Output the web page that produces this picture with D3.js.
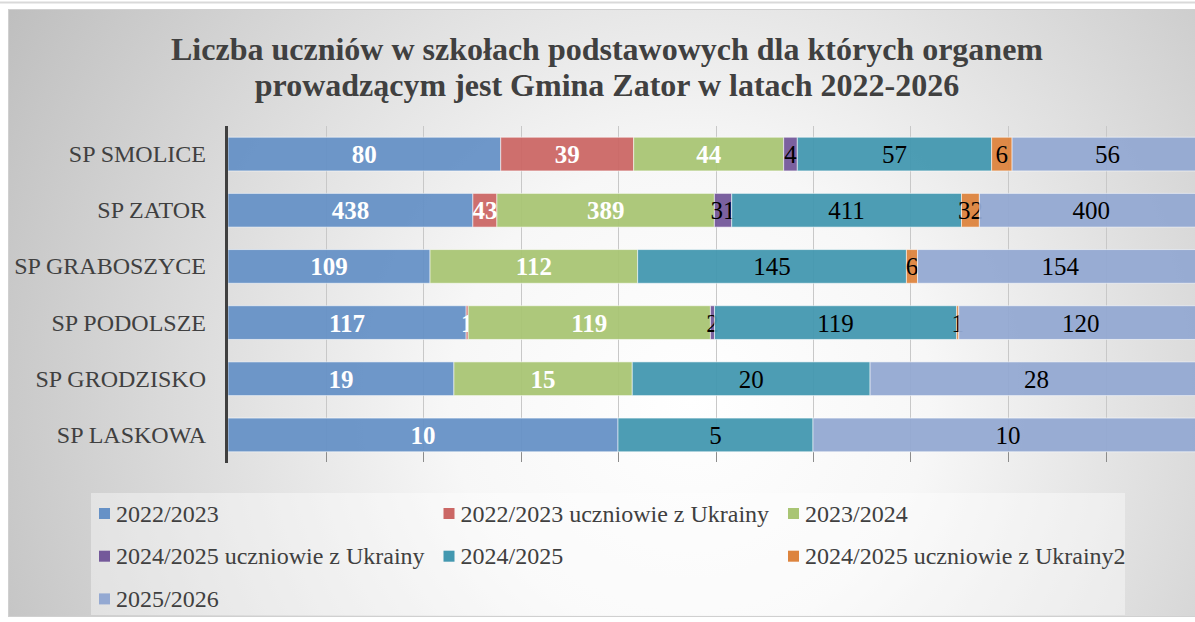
<!DOCTYPE html>
<html>
<head>
<meta charset="utf-8">
<script src="https://cdn.jsdelivr.net/npm/d3@7"></script>
<style>
  html, body { margin: 0; padding: 0; background: #fff; overflow: hidden; }
  svg { display: block; font-family: "Liberation Serif", "Times New Roman", serif; }
</style>
</head>
<body>
<svg id="chart" width="1195" height="622"></svg>
<script>
// Schools (top to bottom)
const categories = ["SP SMOLICE", "SP ZATOR", "SP GRABOSZYCE", "SP PODOLSZE", "SP GRODZISKO", "SP LASKOWA"];

// Series names, in stacking order
const seriesNames = [
  "2022/2023",
  "2022/2023 uczniowie z Ukrainy",
  "2023/2024",
  "2024/2025 uczniowie z Ukrainy",
  "2024/2025",
  "2024/2025 uczniowie z Ukrainy2",
  "2025/2026"
];

// Pupil counts per series, one value per school
const y2223    = [80, 438, 109, 117, 19, 10];
const ukr2223  = [39, 43, 0, 1, 0, 0];
const y2324    = [44, 389, 112, 119, 15, 0];
const ukr2425  = [4, 31, 0, 2, 0, 0];
const y2425    = [57, 411, 145, 119, 20, 5];
const ukr2425b = [6, 32, 6, 1, 0, 0];
const y2526    = [56, 400, 154, 120, 28, 10];

const seriesValues = [y2223, ukr2223, y2324, ukr2425, y2425, ukr2425b, y2526];
const colors = ["#6691C6", "#CB6765", "#A9C574", "#74599A", "#4398B0", "#DD843E", "#94A9D2"];
const titleLines = [
  "Liczba uczniów w szkołach podstawowych dla których organem",
  "prowadzącym jest Gmina Zator w latach 2022-2026"
];

const svg = d3.select("#chart");
const W = 1195, H = 622;

// Background: chart area with a soft radial fill
const defs = svg.append("defs");
const grad = defs.append("radialGradient")
  .attr("id", "bg").attr("gradientUnits", "userSpaceOnUse")
  .attr("cx", 690).attr("cy", 400).attr("r", 800);
grad.append("stop").attr("offset", "0").attr("stop-color", "#ffffff");
grad.append("stop").attr("offset", "0.3").attr("stop-color", "#f7f7f7");
grad.append("stop").attr("offset", "1").attr("stop-color", "#bdbdbd");

svg.append("rect").attr("x", 0).attr("y", 0).attr("width", W).attr("height", H).attr("fill", "#fff");
svg.append("line").attr("x1", 0).attr("x2", W).attr("y1", 2.5).attr("y2", 2.5)
  .attr("stroke", "#d9d9d9").attr("stroke-width", 2);
svg.append("rect").attr("x", 8.5).attr("y", 9.5).attr("width", W).attr("height", 607)
  .attr("fill", "url(#bg)").attr("stroke", "#d0d0d0").attr("stroke-width", 1);

// Title
svg.append("g").selectAll("text").data(titleLines).join("text")
  .attr("x", 607).attr("y", (d, i) => 60 + i * 36)
  .attr("text-anchor", "middle")
  .attr("font-size", 32).attr("font-weight", "bold").attr("fill", "#404040")
  .text(d => d);

// Scales: 100% stacked horizontal bars
const x0 = 228, x1 = 1203;
const x = d3.scaleLinear().domain([0, 1]).range([x0, x1]);
const y = d3.scaleBand().domain(categories).range([126, 463]).paddingInner(0.4).paddingOuter(0.2);

// Gridlines every 10%
const ticks = d3.range(1, 10).map(k => k / 10);
const grid = svg.append("g");
grid.selectAll("line.g").data(ticks).join("line").attr("class", "g")
  .attr("x1", d => Math.round(x(d)) + 0.5).attr("x2", d => Math.round(x(d)) + 0.5)
  .attr("y1", 126).attr("y2", 462)
  .attr("stroke", "#c8c8c8").attr("stroke-width", 1);
grid.selectAll("line.t").data(ticks).join("line").attr("class", "t")
  .attr("x1", d => Math.round(x(d)) + 0.5).attr("x2", d => Math.round(x(d)) + 0.5)
  .attr("y1", 452).attr("y2", 462)
  .attr("stroke", "#8c8c8c").attr("stroke-width", 1);

// Stack the data as shares of each school's total
const rows = categories.map((c, i) => {
  const r = { cat: c };
  seriesNames.forEach((s, j) => r[s] = seriesValues[j][i]);
  r.total = d3.sum(seriesValues, v => v[i]);
  return r;
});
const stacked = d3.stack().keys(seriesNames)
  .value((d, k) => d[k] / d.total)(rows);

const layers = svg.append("g").selectAll("g").data(stacked).join("g")
  .attr("fill", (d, i) => colors[i]);

layers.selectAll("rect").data(d => d.filter(p => p[1] - p[0] > 0)).join("rect")
  .attr("x", p => x(p[0]))
  .attr("width", p => x(p[1]) - x(p[0]))
  .attr("y", p => y(p.data.cat))
  .attr("height", y.bandwidth())
  .attr("fill-opacity", 0.95)
  .attr("stroke", "rgba(255,255,255,0.55)").attr("stroke-width", 1);

// Value labels
layers.each(function(layer, i) {
  const light = i <= 2;
  d3.select(this).selectAll("text").data(layer.filter(p => p.data[layer.key] > 0)).join("text")
    .attr("x", p => (x(p[0]) + x(p[1])) / 2)
    .attr("y", p => y(p.data.cat) + y.bandwidth() / 2 + 9)
    .attr("text-anchor", "middle")
    .attr("font-size", 25)
    .attr("font-weight", light ? "bold" : "normal")
    .attr("fill", light ? "#ffffff" : "#000000")
    .text(p => p.data[layer.key]);
});

// Category axis
svg.append("line").attr("x1", 226.5).attr("x2", 226.5).attr("y1", 126).attr("y2", 463)
  .attr("stroke", "#404040").attr("stroke-width", 3);
svg.append("g").selectAll("text").data(categories).join("text")
  .attr("x", 206).attr("y", d => y(d) + y.bandwidth() / 2 + 8)
  .attr("text-anchor", "end").attr("font-size", 24).attr("fill", "#404040")
  .text(d => d);

// Legend
svg.append("rect").attr("x", 91).attr("y", 493).attr("width", 1034).attr("height", 122)
  .attr("fill", "#ffffff").attr("fill-opacity", 0.4);
const colX = [99, 443.5, 788];
const leg = svg.append("g").selectAll("g").data(seriesNames).join("g")
  .attr("transform", (d, i) => `translate(${colX[i % 3]},${513.5 + Math.floor(i / 3) * 42.7})`);
leg.append("rect").attr("x", 0).attr("y", -5.5).attr("width", 11).attr("height", 11)
  .attr("fill", (d, i) => colors[i]);
leg.append("text").attr("x", 17).attr("y", 8).attr("font-size", 24).attr("fill", "#404040")
  .text(d => d);
</script>
</body>
</html>
